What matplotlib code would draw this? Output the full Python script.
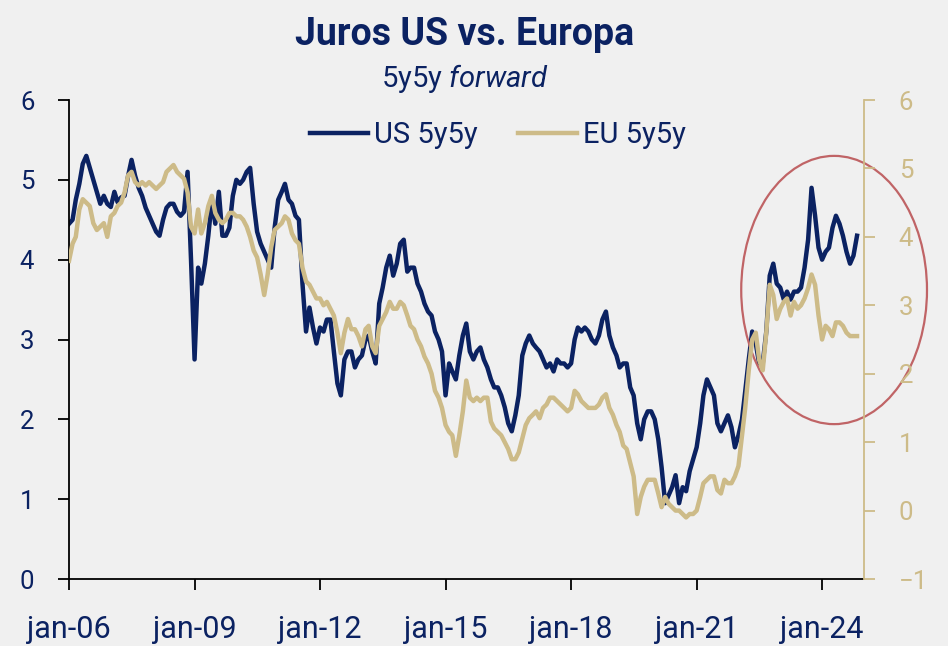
import matplotlib
matplotlib.use("Agg")
import matplotlib.pyplot as plt
import matplotlib.dates as mdates
from matplotlib.patches import Ellipse
import pandas as pd

# 5y5y forward, valores mensais (jan-06 .. nov-24)
us_5y5y = [
    4.45, 4.5, 4.75, 4.95, 5.2, 5.3, 5.15, 5.0, 4.85, 4.7, 4.8, 4.7,      # 2006
    4.66, 4.85, 4.72, 4.78, 4.8, 5.05, 5.25, 5.05, 4.9, 4.8, 4.65, 4.55,  # 2007
    4.45, 4.35, 4.3, 4.5, 4.65, 4.7, 4.7, 4.6, 4.55, 4.6, 5.1, 4.0,       # 2008
    2.75, 3.9, 3.7, 3.95, 4.3, 4.75, 4.45, 4.85, 4.3, 4.3, 4.4, 4.8,      # 2009
    5.0, 4.95, 5.0, 5.1, 5.15, 4.7, 4.35, 4.2, 4.1, 4.0, 3.9, 4.4,        # 2010
    4.75, 4.85, 4.95, 4.75, 4.7, 4.55, 4.5, 3.7, 3.1, 3.4, 3.15, 2.95,    # 2011
    3.15, 3.1, 3.25, 3.25, 2.85, 2.45, 2.3, 2.75, 2.85, 2.85, 2.65, 2.75,  # 2012
    2.8, 3.0, 3.05, 2.85, 2.7, 3.45, 3.65, 3.9, 4.05, 3.8, 3.95, 4.2,     # 2013
    4.25, 3.85, 3.9, 3.9, 3.7, 3.6, 3.45, 3.35, 3.3, 3.1, 3.0, 2.85,      # 2014
    2.3, 2.7, 2.6, 2.5, 2.8, 3.05, 3.2, 2.85, 2.75, 2.85, 2.9, 2.75,      # 2015
    2.65, 2.5, 2.4, 2.4, 2.3, 2.15, 1.95, 1.85, 2.05, 2.3, 2.8, 2.95,     # 2016
    3.05, 2.95, 2.9, 2.85, 2.75, 2.65, 2.7, 2.6, 2.75, 2.7, 2.7, 2.65,    # 2017
    2.7, 3.0, 3.15, 3.1, 3.15, 3.1, 3.0, 2.95, 3.05, 3.25, 3.35, 3.05,    # 2018
    2.9, 2.8, 2.65, 2.7, 2.7, 2.4, 2.3, 1.95, 1.75, 2.0, 2.1, 2.1,        # 2019
    2.0, 1.75, 1.4, 0.95, 1.05, 1.15, 1.3, 0.95, 1.15, 1.1, 1.35, 1.5,    # 2020
    1.65, 1.95, 2.3, 2.5, 2.4, 2.3, 1.95, 1.85, 1.95, 2.05, 1.9, 1.65,    # 2021
    1.8, 2.0, 2.35, 2.75, 3.1, 2.95, 2.7, 2.7, 3.1, 3.8, 3.95, 3.7,       # 2022
    3.65, 3.5, 3.6, 3.5, 3.6, 3.6, 3.65, 3.9, 4.25, 4.9, 4.55, 4.15,      # 2023
    4.0, 4.1, 4.15, 4.4, 4.55, 4.45, 4.3, 4.1, 3.95, 4.05, 4.3,           # 2024
]

eu_5y5y = [
    3.65, 3.9, 4.0, 4.4, 4.55, 4.5, 4.45, 4.2, 4.1, 4.15, 4.2, 4.0,       # 2006
    4.3, 4.35, 4.45, 4.5, 4.65, 4.9, 4.95, 4.8, 4.75, 4.8, 4.75, 4.8,     # 2007
    4.75, 4.7, 4.75, 4.8, 4.95, 5.0, 5.05, 4.95, 4.9, 4.85, 4.65, 4.15,   # 2008
    4.05, 4.4, 4.05, 4.2, 4.45, 4.6, 4.35, 4.25, 4.2, 4.25, 4.35, 4.35,   # 2009
    4.3, 4.3, 4.25, 4.15, 4.0, 3.8, 3.7, 3.45, 3.15, 3.45, 3.85, 4.1,     # 2010
    4.15, 4.2, 4.3, 4.25, 4.05, 3.95, 3.9, 3.55, 3.35, 3.3, 3.2, 3.1,     # 2011
    3.1, 3.0, 3.05, 2.95, 2.85, 2.6, 2.3, 2.6, 2.8, 2.65, 2.65, 2.55,     # 2012
    2.4, 2.65, 2.7, 2.4, 2.3, 2.7, 2.8, 2.9, 3.05, 2.95, 2.95, 3.05,      # 2013
    3.0, 2.85, 2.7, 2.65, 2.5, 2.4, 2.25, 2.15, 2.0, 1.75, 1.65, 1.5,     # 2014
    1.25, 1.15, 1.1, 0.8, 1.1, 1.45, 1.9, 1.65, 1.6, 1.65, 1.6, 1.65,     # 2015
    1.65, 1.3, 1.2, 1.15, 1.1, 1.0, 0.9, 0.75, 0.75, 0.85, 1.05, 1.25,    # 2016
    1.35, 1.4, 1.45, 1.35, 1.5, 1.55, 1.65, 1.65, 1.6, 1.55, 1.5, 1.45,   # 2017
    1.5, 1.75, 1.7, 1.6, 1.55, 1.5, 1.5, 1.5, 1.55, 1.65, 1.7, 1.5,       # 2018
    1.4, 1.25, 1.15, 0.95, 0.9, 0.7, 0.5, -0.05, 0.2, 0.35, 0.45, 0.45,   # 2019
    0.45, 0.25, 0.05, 0.2, 0.1, 0.05, 0.0, 0.0, -0.05, -0.1, -0.05, -0.05,  # 2020
    0.0, 0.2, 0.4, 0.45, 0.5, 0.5, 0.3, 0.25, 0.45, 0.4, 0.4, 0.5,        # 2021
    0.65, 1.1, 1.5, 2.05, 2.5, 2.6, 2.2, 2.05, 2.6, 3.3, 3.15, 2.8,       # 2022
    2.95, 3.05, 3.1, 2.85, 3.05, 2.95, 3.0, 3.1, 3.25, 3.45, 3.3, 2.85,   # 2023
    2.5, 2.7, 2.65, 2.55, 2.75, 2.75, 2.7, 2.6, 2.55, 2.55, 2.55,         # 2024
]

datas = pd.date_range("2006-01-01", periods=len(us_5y5y), freq="MS")

azul = "#0b2262"
bege = "#cdbb88"
fundo = "#f0f0f0"

plt.rcParams["font.family"] = ["Roboto", "DejaVu Sans"]
plt.rcParams["mathtext.fontset"] = "custom"
plt.rcParams["mathtext.rm"] = "Roboto"
plt.rcParams["mathtext.it"] = "Roboto:italic"

fig = plt.figure(figsize=(9.48, 6.46), dpi=100, facecolor=fundo)
ax = fig.add_axes([0.0728, 0.1037, 0.8386, 0.7415])
ax.set_facecolor(fundo)
ax2 = ax.twinx()

l1, = ax.plot(datas, us_5y5y, color=azul, lw=3.2, label="US 5y5y")
l2, = ax2.plot(datas, eu_5y5y, color=bege, lw=3.2, label="EU 5y5y")

ax.set_xlim(pd.Timestamp("2006-01-01"), pd.Timestamp("2025-01-01"))
ax.set_ylim(0, 6)
ax2.set_ylim(-1, 6)
ax.set_yticks(range(0, 7))
ax2.set_yticks(range(-1, 7))

anos = [pd.Timestamp(f"{a}-01-01") for a in range(2006, 2025, 3)]
ax.set_xticks(anos)
ax.xaxis.set_major_formatter(mdates.DateFormatter("jan-%y"))

ax.spines["top"].set_visible(False)
ax.spines["right"].set_visible(False)
ax2.spines["top"].set_visible(False)
ax2.spines["left"].set_visible(False)
ax2.spines["bottom"].set_visible(False)
ax2.spines["right"].set_color(bege)
ax2.spines["right"].set_linewidth(1.3)
ax.spines["left"].set_linewidth(1.3)
ax.spines["bottom"].set_linewidth(1.3)

ax.tick_params(axis="y", direction="out", length=8, width=1.3, pad=17,
               labelsize=18.5, labelcolor=azul)
ax.tick_params(axis="x", direction="out", length=8, width=1.3, pad=18,
               labelsize=22, labelcolor=azul)
ax2.tick_params(axis="y", direction="out", length=8, width=1.3, pad=17,
                labelsize=18.5, colors=bege)

# destaque no período recente
elipse = Ellipse((mdates.date2num(pd.Timestamp("2024-04-15")), 3.62),
                 width=4.44 * 365.25, height=3.36, fill=False,
                 edgecolor="#c06466", lw=1.6, clip_on=False, zorder=5)
ax.add_patch(elipse)

ax2.legend(handles=[l1, l2], loc="center", bbox_to_anchor=(0.525, 0.791),
           bbox_transform=fig.transFigure, ncol=2, frameon=False,
           fontsize=21, labelcolor=azul, handlelength=2.0,
           handletextpad=0.2, columnspacing=1.4)

fig.text(0.49, 0.946, "Juros US vs. Europa", ha="center", va="center",
         fontsize=27, fontweight="bold", color=azul)
fig.text(0.49, 0.878, r"5y5y $\it{forward}$", ha="center", va="center",
         fontsize=21, color=azul)

fig.savefig("out.png", dpi=100, facecolor=fundo)
